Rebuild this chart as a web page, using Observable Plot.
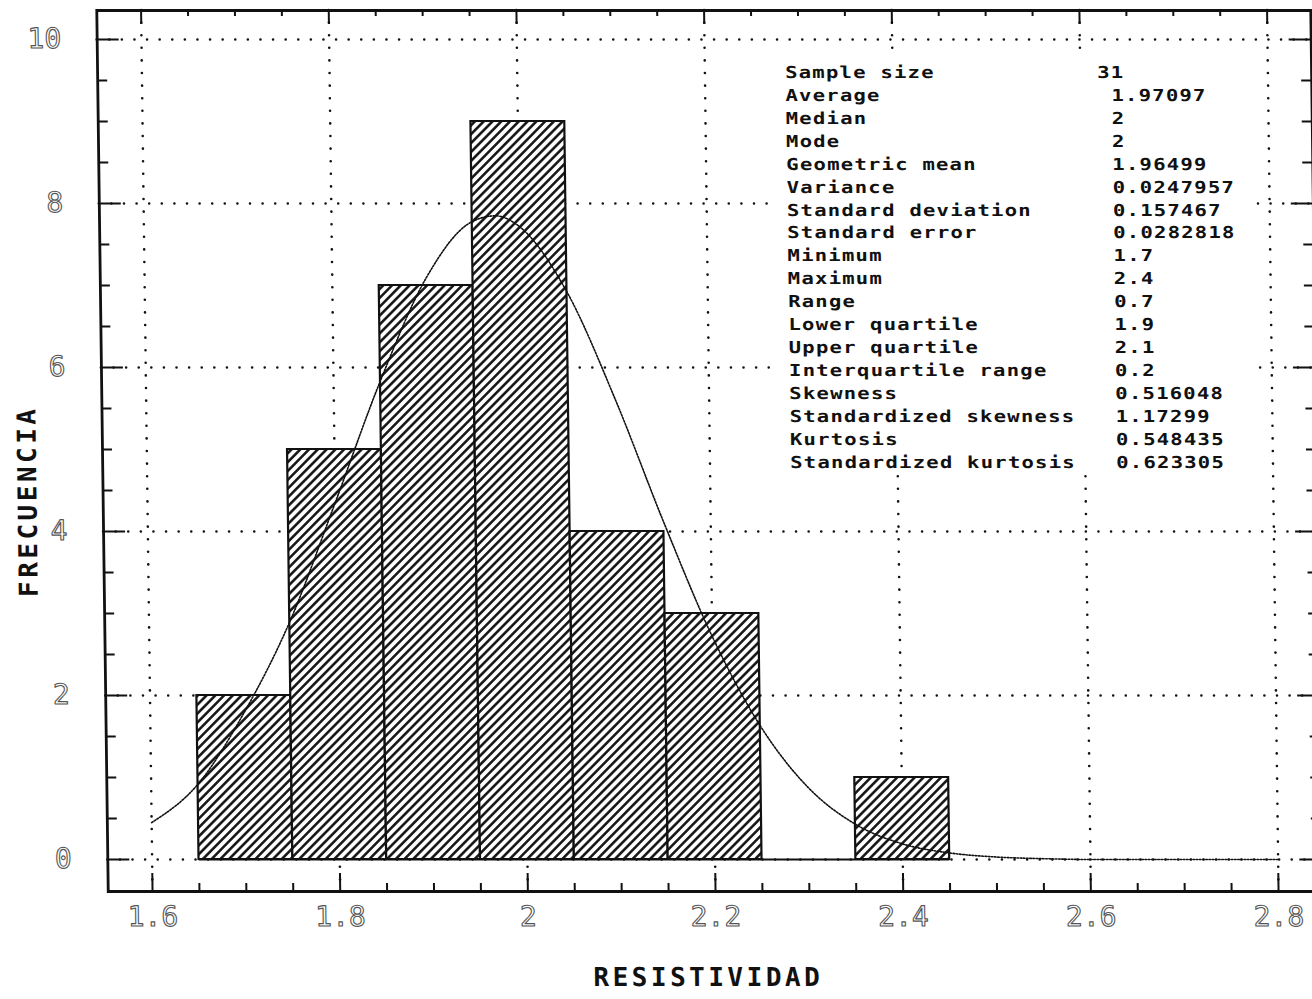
<!DOCTYPE html>
<html><head><meta charset="utf-8">
<script src="https://cdn.jsdelivr.net/npm/d3@7"></script>
<script src="https://cdn.jsdelivr.net/npm/@observablehq/plot@0.6"></script>
<style>
html,body{margin:0;padding:0;background:#fff;overflow:hidden;width:1312px;height:999px}
#wrap{position:relative;width:1316px;height:999px;transform:skewX(0.745deg);transform-origin:0 450px}
#statsBox{position:absolute;left:775px;top:58px;width:483px;height:417px;background:#fff}
.col{position:absolute;white-space:pre;font-family:"DejaVu Sans Mono",monospace;font-weight:bold;font-size:16.5px;line-height:22.9px;letter-spacing:0.95px;color:#111;transform:scaleX(1.25);transform-origin:0 0}
</style></head><body><div id="wrap"></div>
<script>
// ---- data ----
const binStart = [1.65, 1.75, 1.85, 1.95, 2.05, 2.15, 2.25, 2.35];
const binWidth = 0.1;
const counts = [2, 5, 7, 9, 4, 3, 0, 1];
const curveX = [1.60, 1.65, 1.70, 1.75, 1.80, 1.85, 1.90, 1.95, 1.975, 2.00, 2.05, 2.10, 2.15, 2.20, 2.25, 2.30, 2.35, 2.40, 2.45, 2.50, 2.55, 2.60, 2.65, 2.70, 2.75, 2.80];
const curveY = [0.45, 0.92, 1.79, 2.90, 4.35, 5.84, 7.09, 7.78, 7.85, 7.72, 6.92, 5.61, 4.11, 2.72, 1.63, 0.88, 0.43, 0.19, 0.08, 0.03, 0.01, 0, 0, 0, 0, 0];
const xTicks = [1.6, 1.8, 2, 2.2, 2.4, 2.6, 2.8];
const xTickLabels = ["1.6", "1.8", "2", "2.2", "2.4", "2.6", "2.8"];
const yTicks = [0, 2, 4, 6, 8, 10];
const yTickLabels = ["0", "2", "4", "6", "8", "10"];
const statLabels = ["Sample size", "Average", "Median", "Mode", "Geometric mean", "Variance",
  "Standard deviation", "Standard error", "Minimum", "Maximum", "Range", "Lower quartile",
  "Upper quartile", "Interquartile range", "Skewness", "Standardized skewness", "Kurtosis",
  "Standardized kurtosis"];
const statValues = ["31", "1.97097", "2", "2", "1.96499", "0.0247957", "0.157467", "0.0282818",
  "1.7", "2.4", "0.7", "1.9", "2.1", "0.2", "0.516048", "1.17299", "0.548435", "0.623305"];
const xLabel = "RESISTIVIDAD";
const yLabel = "FRECUENCIA";

// ---- layout ----
const W = 1316, H = 999, mL = 102, mR = 0, mT = 10, mB = 108;
const xDomain = [1.55279, 2.84657];
const yDomain = [-0.39024, 10.35366];
const kx = (W - mL - mR) / (xDomain[1] - xDomain[0]);
const ky = (H - mT - mB) / (yDomain[1] - yDomain[0]);
const xMinor = d3.range(0, 25).map(i => +(1.6 + 0.05 * i).toFixed(2));
const yMinor = d3.range(0, 21).map(i => i * 0.5);
const isMajX = d => Math.abs(d * 5 - Math.round(d * 5)) < 1e-6;
const isMajY = d => d % 2 === 0;

const bins = binStart.map((s, i) => ({x1: s, x2: +(s + binWidth).toFixed(2), count: counts[i]}));
const curve = curveX.map((x, i) => ({x, y: curveY[i]}));

const ink = "#111";
const dotted = {stroke: ink, strokeWidth: 2.6, strokeDasharray: "0 12.6", strokeLinecap: "round"};
const tickStyle = {stroke: ink, strokeWidth: 2};
const labelFont = {fontFamily: "DejaVu Sans Mono", fontSize: 28, fill: "none", stroke: "#555", strokeWidth: 1.1};
const titleFont = {fontFamily: "DejaVu Sans Mono", fontSize: 26, fontWeight: "bold", fill: ink};

const svg = Plot.plot({
  width: W, height: H,
  marginLeft: mL, marginRight: mR, marginTop: mT, marginBottom: mB,
  x: {domain: xDomain, axis: null},
  y: {domain: yDomain, axis: null},
  style: {background: "white", overflow: "visible"},
  marks: [
    Plot.ruleX(xTicks, dotted),
    Plot.ruleY(yTicks, dotted),
    Plot.rect(bins, {x1: "x1", x2: "x2", y1: 0, y2: "count", fill: "url(#hatch)", stroke: ink, strokeWidth: 2.2}),
    Plot.ruleY([0], {x1: bins[0].x1, x2: bins[bins.length - 1].x2, stroke: ink, strokeWidth: 2.2}),
    Plot.line(curve, {x: "x", y: "y", curve: "monotone-x", stroke: ink, strokeWidth: 1.6, strokeDasharray: "1.6 1.6"}),
    // ticks: top, bottom, left, right
    Plot.ruleX(xMinor, {x: d => d, y1: yDomain[1], y2: d => yDomain[1] - (isMajX(d) ? 14 : 6) / ky, ...tickStyle}),
    Plot.ruleX(xMinor, {x: d => d, y1: yDomain[0], y2: d => yDomain[0] + (isMajX(d) ? 18 : 8) / ky, ...tickStyle}),
    Plot.ruleY(yMinor, {y: d => d, x1: xDomain[0], x2: d => xDomain[0] + (isMajY(d) ? 22 : 10) / kx, ...tickStyle}),
    Plot.ruleY(yMinor, {y: d => d, x1: xDomain[1], x2: d => xDomain[1] - (isMajY(d) ? 22 : 10) / kx, ...tickStyle}),
    Plot.frame({stroke: ink, strokeWidth: 2.8}),
    // tick labels
    Plot.text(yTicks, {y: d => d, text: (d, i) => yTickLabels[i], frameAnchor: "left", dx: -36, textAnchor: "end", ...labelFont}),
    Plot.text(xTicks, {x: d => d, text: (d, i) => xTickLabels[i], frameAnchor: "bottom", dy: 34, ...labelFont}),
    // axis titles
    Plot.text([xLabel], {frameAnchor: "bottom", dy: 94, dx: -8, ...titleFont}),
    Plot.text([yLabel], {frameAnchor: "left", dx: -75, dy: 146, rotate: -90, ...titleFont})
  ]
});

d3.select(svg).insert("defs", ":first-child").html(
  `<pattern id="hatch" patternUnits="userSpaceOnUse" width="6.2" height="6.2" patternTransform="rotate(45)">
     <rect width="6.2" height="6.2" fill="#fff"/>
     <line x1="3.1" y1="-1" x2="3.1" y2="7.2" stroke="#111" stroke-width="2.5"/>
   </pattern>`);
d3.select(svg).selectAll("text").filter(function() {
  return this.textContent === xLabel || this.textContent === yLabel;
}).attr("letter-spacing", "3.5px");

const wrap = document.getElementById("wrap");
wrap.appendChild(svg);
svg.style.position = "absolute"; svg.style.left = "0"; svg.style.top = "0";

// statistics panel
const box = document.createElement("div"); box.id = "statsBox"; wrap.appendChild(box);
function col(lines, left, top) {
  const d = document.createElement("div");
  d.className = "col"; d.style.left = left + "px"; d.style.top = top + "px";
  d.textContent = lines.join("\n");
  wrap.appendChild(d);
}
col(statLabels, 790, 62.15);
col(statValues.slice(0, 1), 1102, 62.15);
col(statValues.slice(1), 1115.5, 62.15 + 22.9);
</script>
</body></html>
